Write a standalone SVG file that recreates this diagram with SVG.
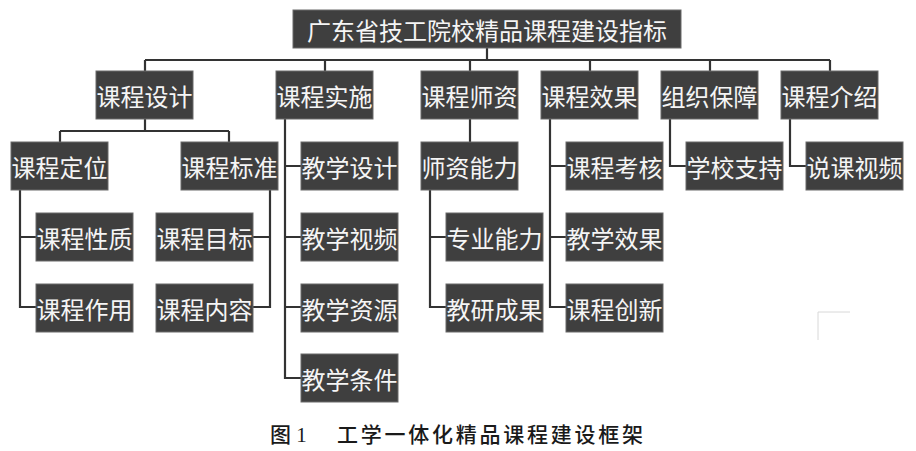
<svg xmlns="http://www.w3.org/2000/svg" width="916" height="451" viewBox="0 0 916 451">
<style>
.box{fill:#3f3f3f;stroke:#6a6a6a;stroke-width:1}
.t{fill:#f5f5f5;font-family:"Noto Sans CJK SC","Noto Sans",sans-serif;font-size:24px;text-anchor:middle;dominant-baseline:central}
.c{fill:none;stroke:#333;stroke-width:2.2}
.cap{fill:#1a1a1a;font-family:"Liberation Serif","Noto Sans CJK SC",serif;font-size:21px;font-weight:500}
</style>
<rect width="916" height="451" fill="#fff"/>
<g id="connectors">
<path class="c" d="M487,48V60M145,60H830M145,60V71M325,60V71M470,60V71M590,60V71M710,60V71M830,60V71"/>
<path class="c" d="M145,119V131M60,131H229M60,131V142M229,131V142"/>
<path class="c" d="M20,190V307H36M20,237H36"/>
<path class="c" d="M270,190V307H253M270,237H253"/>
<path class="c" d="M285,119V378H301M285,166H301M285,237H301M285,307H301"/>
<path class="c" d="M470,119V142M430,190V307H446M430,237H446"/>
<path class="c" d="M550,119V307H566M550,166H566M550,237H566"/>
<path class="c" d="M670,119V166H686M790,119V166H806"/>
</g>
<g id="root"><rect class="box" x="293" y="10" width="388" height="38"/><text class="t" x="487" y="29" font-size="23.6">广东省技工院校精品课程建设指标</text></g>
<g id="n_design"><rect class="box" x="96" y="71" width="97" height="48"/><text class="t" x="144.5" y="95">课程设计</text></g>
<g id="n_impl"><rect class="box" x="276" y="71" width="97" height="48"/><text class="t" x="324.5" y="95">课程实施</text></g>
<g id="n_teacher"><rect class="box" x="421" y="71" width="97" height="48"/><text class="t" x="469.5" y="95">课程师资</text></g>
<g id="n_effect"><rect class="box" x="541" y="71" width="97" height="48"/><text class="t" x="589.5" y="95">课程效果</text></g>
<g id="n_org"><rect class="box" x="661" y="71" width="97" height="48"/><text class="t" x="709.5" y="95">组织保障</text></g>
<g id="n_intro"><rect class="box" x="781" y="71" width="97" height="48"/><text class="t" x="829.5" y="95">课程介绍</text></g>
<g id="n_pos"><rect class="box" x="11" y="142" width="97" height="48"/><text class="t" x="59.5" y="166">课程定位</text></g>
<g id="n_std"><rect class="box" x="181" y="142" width="97" height="48"/><text class="t" x="229.5" y="166">课程标准</text></g>
<g id="n_nature"><rect class="box" x="36" y="213" width="97" height="48"/><text class="t" x="84.5" y="237">课程性质</text></g>
<g id="n_role"><rect class="box" x="36" y="284" width="97" height="48"/><text class="t" x="84.5" y="308">课程作用</text></g>
<g id="n_goal"><rect class="box" x="156" y="213" width="97" height="48"/><text class="t" x="204.5" y="237">课程目标</text></g>
<g id="n_content"><rect class="box" x="156" y="284" width="97" height="48"/><text class="t" x="204.5" y="308">课程内容</text></g>
<g id="n_tdesign"><rect class="box" x="301" y="142" width="97" height="48"/><text class="t" x="349.5" y="166">教学设计</text></g>
<g id="n_video"><rect class="box" x="301" y="213" width="97" height="48"/><text class="t" x="349.5" y="237">教学视频</text></g>
<g id="n_res"><rect class="box" x="301" y="284" width="97" height="48"/><text class="t" x="349.5" y="308">教学资源</text></g>
<g id="n_cond"><rect class="box" x="301" y="354" width="97" height="48"/><text class="t" x="349.5" y="378">教学条件</text></g>
<g id="n_ability"><rect class="box" x="421" y="142" width="97" height="48"/><text class="t" x="469.5" y="166">师资能力</text></g>
<g id="n_prof"><rect class="box" x="446" y="213" width="97" height="48"/><text class="t" x="494.5" y="237">专业能力</text></g>
<g id="n_research"><rect class="box" x="446" y="284" width="97" height="48"/><text class="t" x="494.5" y="308">教研成果</text></g>
<g id="n_assess"><rect class="box" x="566" y="142" width="97" height="48"/><text class="t" x="614.5" y="166">课程考核</text></g>
<g id="n_teff"><rect class="box" x="566" y="213" width="97" height="48"/><text class="t" x="614.5" y="237">教学效果</text></g>
<g id="n_innov"><rect class="box" x="566" y="284" width="97" height="48"/><text class="t" x="614.5" y="308">课程创新</text></g>
<g id="n_support"><rect class="box" x="686" y="142" width="97" height="48"/><text class="t" x="734.5" y="166">学校支持</text></g>
<g id="n_svideo"><rect class="box" x="806" y="142" width="97" height="48"/><text class="t" x="854.5" y="166">说课视频</text></g>
<path d="M818,340V312H850" fill="none" stroke="#d8d8d8" stroke-width="1"/>
<g id="caption">
<text class="cap" x="270" y="442">图 1</text>
<text class="cap" x="337" y="442" textLength="306" lengthAdjust="spacing">工学一体化精品课程建设框架</text>
</g>
</svg>
